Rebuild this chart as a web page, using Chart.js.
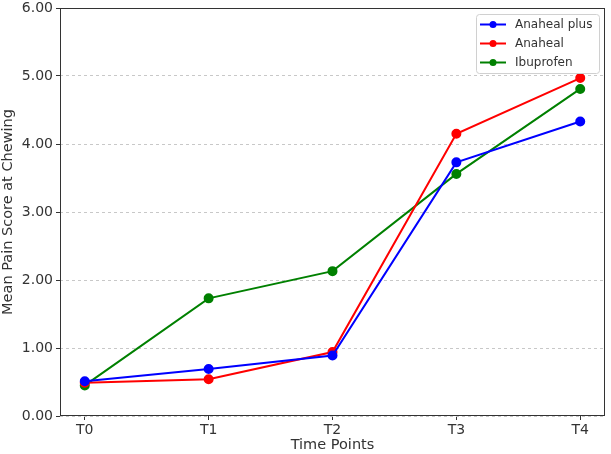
<!DOCTYPE html>
<html>
<head>
<meta charset="utf-8">
<script src="https://cdn.jsdelivr.net/npm/chart.js@4.4.0/dist/chart.umd.min.js"></script>
<style>
  body { margin: 0; background: #fff; }
  #wrap { width: 611px; height: 454px; }
</style>
</head>
<body>
<div id="wrap"><canvas id="canvas" width="611" height="454"></canvas></div>
<script>
var timePoints = ['T0', 'T1', 'T2', 'T3', 'T4'];
var anahealPlus = [0.51, 0.69, 0.89, 3.73, 4.33];
var anaheal = [0.49, 0.54, 0.94, 4.15, 4.97];
var ibuprofen = [0.45, 1.73, 2.13, 3.56, 4.81];
var yTicks = [0, 1, 2, 3, 4, 5, 6];

function toPoints(arr) {
    return arr.map(function(v, i) { return { x: i, y: v }; });
}

var FONT = "'DejaVu Sans', sans-serif";

// frame around the plot + legend box inside the top right corner
var framePlugin = {
    id: 'frame',
    afterDatasetsDraw: function(chart) {
        var ctx = chart.ctx;
        var a = chart.chartArea;
        ctx.save();
        ctx.strokeStyle = '#333';
        ctx.lineWidth = 1;
        ctx.strokeRect(a.left + 0.5, a.top + 0.5, a.right - a.left - 1, a.bottom - a.top - 1);

        // legend
        var bx = a.right - 129, by = a.top + 6, bw = 123, bh = 59;
        ctx.fillStyle = 'rgba(255,255,255,0.85)';
        ctx.strokeStyle = '#d0d0d0';
        ctx.beginPath();
        ctx.roundRect(bx + 0.5, by + 0.5, bw, bh, 3);
        ctx.fill();
        ctx.stroke();
        ctx.font = '12px ' + FONT;
        ctx.textBaseline = 'middle';
        chart.data.datasets.forEach(function(ds, i) {
            var yy = by + 10.5 + i * 19;
            ctx.strokeStyle = ds.borderColor;
            ctx.lineWidth = 2;
            ctx.beginPath();
            ctx.moveTo(bx + 4, yy);
            ctx.lineTo(bx + 30, yy);
            ctx.stroke();
            ctx.fillStyle = ds.borderColor;
            ctx.beginPath();
            ctx.arc(bx + 17, yy, 3.5, 0, Math.PI * 2);
            ctx.fill();
            ctx.fillStyle = '#333';
            ctx.fillText(ds.label, bx + 39, yy);
        });
        ctx.restore();
    }
};

var ctx = document.getElementById('canvas').getContext('2d');
var myChart = new Chart(ctx, {
    type: 'line',
    data: {
        datasets: [{
            label: 'Anaheal plus',
            data: toPoints(anahealPlus),
            borderColor: '#0000ff',
            backgroundColor: '#0000ff',
            borderWidth: 2,
            pointRadius: 4,
            pointHoverRadius: 4
        },
        {
            label: 'Anaheal',
            data: toPoints(anaheal),
            borderColor: '#ff0000',
            backgroundColor: '#ff0000',
            borderWidth: 2,
            pointRadius: 4,
            pointHoverRadius: 4
        },
        {
            label: 'Ibuprofen',
            data: toPoints(ibuprofen),
            borderColor: '#008000',
            backgroundColor: '#008000',
            borderWidth: 2,
            pointRadius: 4,
            pointHoverRadius: 4
        }]
    },
    options: {
        responsive: false,
        animation: false,
        layout: { padding: { top: 8, right: 4, left: 0, bottom: 0 } },
        plugins: {
            legend: { display: false },
            tooltip: { enabled: false }
        },
        elements: { line: { tension: 0 } },
        scales: {
            x: {
                type: 'linear',
                min: -0.2,
                max: 4.2,
                afterBuildTicks: function(axis) {
                    axis.ticks = timePoints.map(function(t, i) { return { value: i }; });
                },
                afterFit: function(axis) { axis.height = 38; },
                ticks: {
                    color: '#333',
                    font: { family: FONT, size: 14 },
                    padding: 2,
                    maxRotation: 0,
                    callback: function(v) { return timePoints[v]; }
                },
                grid: { drawOnChartArea: false, drawTicks: true, tickLength: 4, tickColor: '#333' },
                border: { display: false },
                title: {
                    display: true,
                    text: 'Time Points',
                    color: '#333',
                    font: { family: FONT, size: 14.5 },
                    padding: { top: 0, bottom: 0 }
                }
            },
            y: {
                min: 0,
                max: 6,
                afterBuildTicks: function(axis) {
                    axis.ticks = yTicks.map(function(v) { return { value: v }; });
                },
                afterFit: function(axis) {
                    axis.width = 60;
                    axis.paddingTop = 0;
                    axis.paddingBottom = 0;
                },
                ticks: {
                    color: '#333',
                    font: { family: FONT, size: 14 },
                    padding: 3,
                    callback: function(v) { return v.toFixed(2); }
                },
                grid: { color: '#c8c8c8', lineWidth: 1, drawTicks: true, tickLength: 4, tickColor: '#333', tickBorderDash: [] },
                border: { display: false, dash: [3, 3] },
                title: {
                    display: true,
                    text: 'Mean Pain Score at Chewing',
                    color: '#333',
                    font: { family: FONT, size: 14.5 },
                    padding: { top: 0, bottom: 2 }
                }
            }
        }
    },
    plugins: [framePlugin]
});
</script>
</body>
</html>
